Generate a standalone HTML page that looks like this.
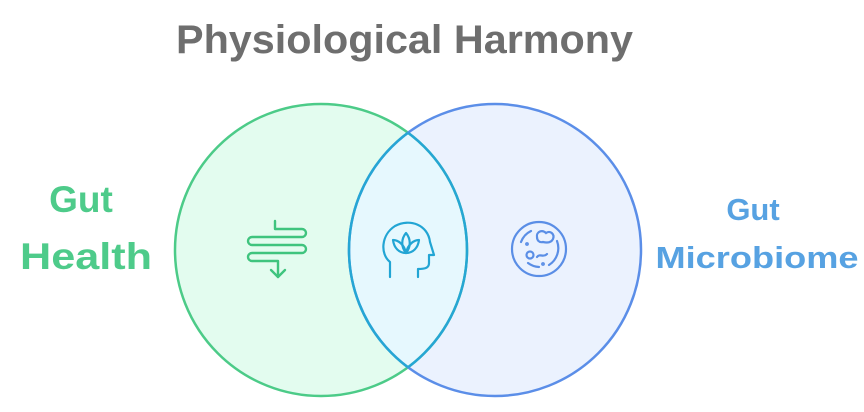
<!DOCTYPE html>
<html><head><meta charset="utf-8"><style>
html,body{margin:0;padding:0;background:#fff;width:864px;height:412px;overflow:hidden}
text{font-family:"Liberation Sans",sans-serif;font-weight:bold}
</style></head><body>
<svg width="864" height="412" viewBox="0 0 864 412" xmlns="http://www.w3.org/2000/svg">
<defs>
<clipPath id="cl"><circle cx="321" cy="250" r="146"/></clipPath>
<clipPath id="cr"><circle cx="495" cy="250" r="146"/></clipPath>
</defs>
<text x="176" y="53" font-size="40" fill="#6e6e6e" textLength="457" lengthAdjust="spacingAndGlyphs">Physiological Harmony</text>
<circle cx="321" cy="250" r="146" fill="#e3fcef"/>
<circle cx="495" cy="250" r="146" fill="#ebf2fe"/>
<circle cx="495" cy="250" r="146" fill="#e6f8fe" clip-path="url(#cl)"/>
<circle cx="321" cy="250" r="146" fill="none" stroke="#4ccb88" stroke-width="2.5"/>
<circle cx="495" cy="250" r="146" fill="none" stroke="#5b8ee8" stroke-width="2.5"/>
<g clip-path="url(#cl)"><circle cx="495" cy="250" r="146" fill="none" stroke="#26a6d4" stroke-width="2.5"/></g>
<g clip-path="url(#cr)"><circle cx="321" cy="250" r="146" fill="none" stroke="#26a6d4" stroke-width="2.5"/></g>
<!-- gut icon -->
<g fill="none" stroke="#3fc47e" stroke-width="2.4" stroke-linecap="round" stroke-linejoin="round">
<path d="M275 221 V229 H302 a4 4 0 0 1 0 8 H252 a4 4 0 0 0 0 8 H302 a4 4 0 0 1 0 8 H252 a4 4 0 0 0 0 8 H278 V277"/>
<path d="M271 270 L278 277 L285 270"/>
</g>
<!-- head icon -->
<g fill="none" stroke="#22a5d4" stroke-width="2.2" stroke-linecap="round" stroke-linejoin="round">
<path d="M390 277 V262 C380 254 381 235 395 226 C410 218 428 225 430 242 L434 255 H429 V263 C429 268 425 269 418 269 V277"/>
<path d="M406 233 C401 239 401 247 406 253 C411 247 411 239 406 233 Z"/>
<path d="M393 240 C394 248 399 253 406 253 C413 253 418 248 419 240 C414 240 408 244 406 253 C404 244 398 240 393 240 Z"/>
</g>
<!-- microbe icon -->
<g fill="none" stroke="#5a8ee6" stroke-width="2.2" stroke-linecap="round">
<circle cx="539" cy="249" r="27"/>
<path d="M521 242 A20 20 0 0 1 531 231 M557 241 A20 20 0 0 1 549 265 M528 263 A20 20 0 0 0 539 267"/>
<path d="M537 237 C536 232 542 229 546 233 C550 230 555 234 553 239 C551 243 547 243 543 242 C539 243 537 240 537 237 Z"/>
<circle cx="530" cy="255" r="3.5"/>
<path d="M537 257 C540 253 543 258 547 254"/>
<circle cx="527" cy="244" r="0.8"/><circle cx="543" cy="264" r="0.8"/>
</g>
<text x="81" y="212" font-size="37" fill="#4ecb8a" text-anchor="middle">Gut</text>
<text x="86" y="269" font-size="37" fill="#4ecb8a" text-anchor="middle" textLength="132" lengthAdjust="spacingAndGlyphs">Health</text>
<text x="753" y="220" font-size="31" fill="#57a2e2" text-anchor="middle">Gut</text>
<text x="757" y="268" font-size="31" fill="#57a2e2" text-anchor="middle" textLength="203" lengthAdjust="spacingAndGlyphs">Microbiome</text>
</svg>
</body></html>
